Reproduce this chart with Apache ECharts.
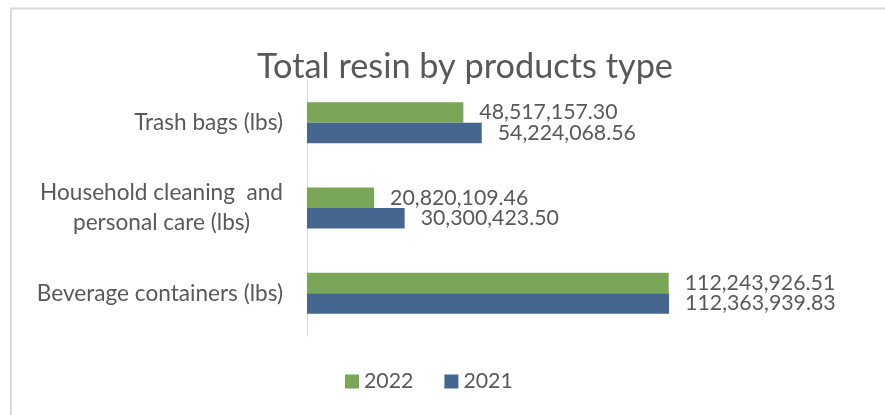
<!DOCTYPE html>
<html>
<head>
<meta charset="utf-8">
<script src="https://cdn.jsdelivr.net/npm/echarts@6/dist/echarts.min.js"></script>
<style>
html,body{margin:0;padding:0;background:#fff;}
#chart{width:885px;height:415px;}
</style>
</head>
<body>
<div id="chart"></div>
<script>
// ---- data ----
const categories = ['Beverage containers (lbs)', 'Household cleaning  and\npersonal care (lbs)', 'Trash bags (lbs)'];
const seriesNames = ['2022', '2021'];
const values2022 = [112243926.51, 20820109.46, 48517157.30];
const values2021 = [112363939.83, 30300423.50, 54224068.56];
const titleText = 'Total resin by products type';

const FONT = 'Lato';
const GRAY = '#595959';
const fmt = v => v.toLocaleString('en-US', {minimumFractionDigits: 2, maximumFractionDigits: 2});

const chart = echarts.init(document.getElementById('chart'), null, {renderer: 'canvas'});
const labelStyle = {
  show: true, position: 'right', distance: 16,
  color: GRAY, fontFamily: FONT, fontSize: 21.3,
  formatter: p => fmt(p.value)
};
chart.setOption({
  animation: false,
  backgroundColor: '#fff',
  title: {
    text: titleText,
    left: 460, top: 45, textAlign: 'center',
    textStyle: {color: GRAY, fontFamily: FONT, fontWeight: 'normal', fontSize: 34.3}
  },
  graphic: [{
    type: 'rect', silent: true, z: -1,
    shape: {x: 11, y: 8.5, width: 900, height: 430},
    style: {fill: 'none', stroke: '#dadada', lineWidth: 2}
  }],
  legend: {
    data: seriesNames,
    left: 340, top: 366,
    itemWidth: 14, itemHeight: 14, itemGap: 31,
    icon: 'rect',
    textStyle: {color: GRAY, fontFamily: FONT, fontSize: 21.3}
  },
  grid: {left: 307, top: 80, width: 386.7, height: 256, containLabel: false},
  xAxis: {
    type: 'value', min: 0, max: 120000000, show: false,
    splitLine: {show: false}
  },
  yAxis: {
    type: 'category', data: categories,
    axisLine: {show: true, lineStyle: {color: '#d9d9d9', width: 1}},
    axisTick: {show: false},
    axisLabel: {
      margin: 24, color: GRAY, fontFamily: FONT, fontSize: 22.6,
      formatter: v => {
        const parts = v.split('\n');
        if (parts.length === 1) return v;
        return '{a|' + parts[0] + '}\n{b|' + parts[1] + '}';
      },
      rich: {
        a: {color: GRAY, fontFamily: FONT, fontSize: 22.6, lineHeight: 30},
        b: {color: GRAY, fontFamily: FONT, fontSize: 22.6, lineHeight: 30, align: 'center'}
      }
    }
  },
  series: [
    {name: '2022', type: 'bar', data: values2022, itemStyle: {color: '#79a657'},
     barGap: '0%', barCategoryGap: '52%', label: labelStyle},
    {name: '2021', type: 'bar', data: values2021, itemStyle: {color: '#45678f'},
     barGap: '0%', barCategoryGap: '52%', label: labelStyle}
  ]
});
</script>
</body>
</html>
